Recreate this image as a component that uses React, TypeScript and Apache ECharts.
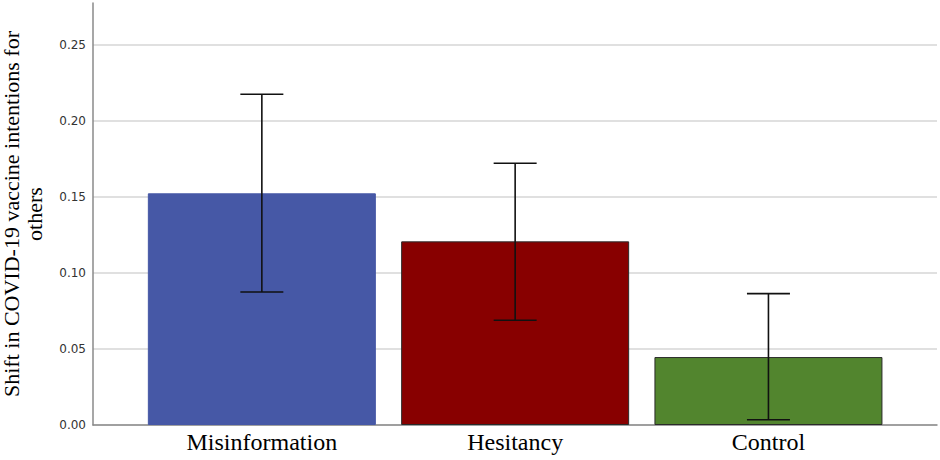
import React, { useEffect, useRef } from "react";
import * as echarts from "echarts";

const categories = ["Misinformation", "Hesitancy", "Control"];
const means = [0.1524, 0.1208, 0.0447];
const ciLow = [0.0875, 0.0689, 0.0035];
const ciHigh = [0.2176, 0.1722, 0.0864];
const barColors = ["#4658A6", "#880000", "#52852E"];
const barBorders = ["#4658A6", "#2a2a2a", "#2a2a2a"];
const yTicks = [0, 0.05, 0.1, 0.15, 0.2, 0.25];

const Y_MAX = 0.2776;

export default function App() {
  const ref = useRef<HTMLDivElement>(null);
  useEffect(() => {
    document.body.style.margin = "0";
    if (!ref.current) return;
    const chart = echarts.init(ref.current, undefined, { renderer: "svg" });
    const option: any = {
      animation: false,
      backgroundColor: "#ffffff",
      grid: [
        { left: 93, right: 3, top: 3, bottom: 35, containLabel: false, outerBoundsMode: "none" },
        { left: 135.2, right: 44.9, top: 3, bottom: 35, containLabel: false, outerBoundsMode: "none" },
      ],
      xAxis: [
        {
          type: "value",
          gridIndex: 0,
          min: 0,
          max: 1,
          axisLine: { show: true, onZero: false, lineStyle: { color: "#8a8a8a", width: 1.5 } },
          axisTick: { show: false },
          axisLabel: { show: false },
          splitLine: { show: false },
        },
        {
          type: "category",
          gridIndex: 1,
          data: categories,
          axisLine: { show: false },
          axisTick: { show: false },
          axisLabel: {
            fontFamily: "Liberation Serif",
            fontSize: 24,
            color: "#000000",
            margin: 5,
          },
        },
      ],
      yAxis: [
        {
          type: "value",
          gridIndex: 0,
          min: 0,
          max: Y_MAX,
          interval: 0.05,
          name: "Shift in COVID-19 vaccine intentions for\nothers",
          nameLocation: "middle",
          nameGap: 47,
          nameTextStyle: {
            fontFamily: "Liberation Serif",
            fontSize: 22,
            lineHeight: 23,
            color: "#000000",
          },
          axisLine: { show: true, lineStyle: { color: "#8a8a8a", width: 1.5 } },
          axisTick: { show: false },
          axisLabel: {
            showMaxLabel: false,
            fontFamily: "DejaVu Sans",
            fontSize: 12,
            color: "#333333",
            margin: 7,
            formatter: (v: number) =>
              yTicks.some((t) => Math.abs(t - v) < 1e-9) ? v.toFixed(2) : "",
          },
          splitLine: {
            show: true,
            showMaxLine: false,
            lineStyle: { color: "#d6d6d6", width: 1.5 },
          },
        },
        {
          type: "value",
          gridIndex: 1,
          min: 0,
          max: Y_MAX,
          show: false,
          splitLine: { show: false },
        },
      ],
      series: [
        {
          type: "bar",
          xAxisIndex: 1,
          yAxisIndex: 1,
          barWidth: 228,
          data: means.map((v, i) => ({
            value: v,
            itemStyle: {
              color: barColors[i],
              borderColor: barBorders[i],
              borderWidth: 1,
            },
          })),
          z: 2,
        },
        {
          type: "custom",
          xAxisIndex: 1,
          yAxisIndex: 1,
          z: 5,
          data: categories.map((_, i) => [i, ciLow[i], ciHigh[i]]),
          renderItem: (params: any, api: any) => {
            const idx = api.value(0);
            const lo = api.coord([idx, api.value(1)]);
            const hi = api.coord([idx, api.value(2)]);
            const half = 21.5;
            const style = { stroke: "#111111", lineWidth: 1.6 };
            return {
              type: "group",
              children: [
                { type: "line", shape: { x1: hi[0], y1: hi[1], x2: lo[0], y2: lo[1] }, style },
                { type: "line", shape: { x1: hi[0] - half, y1: hi[1], x2: hi[0] + half, y2: hi[1] }, style },
                { type: "line", shape: { x1: lo[0] - half, y1: lo[1], x2: lo[0] + half, y2: lo[1] }, style },
              ],
            };
          },
        },
      ],
    };
    chart.setOption(option);
    return () => chart.dispose();
  }, []);
  return <div ref={ref} style={{ width: 940, height: 460 }} />;
}
